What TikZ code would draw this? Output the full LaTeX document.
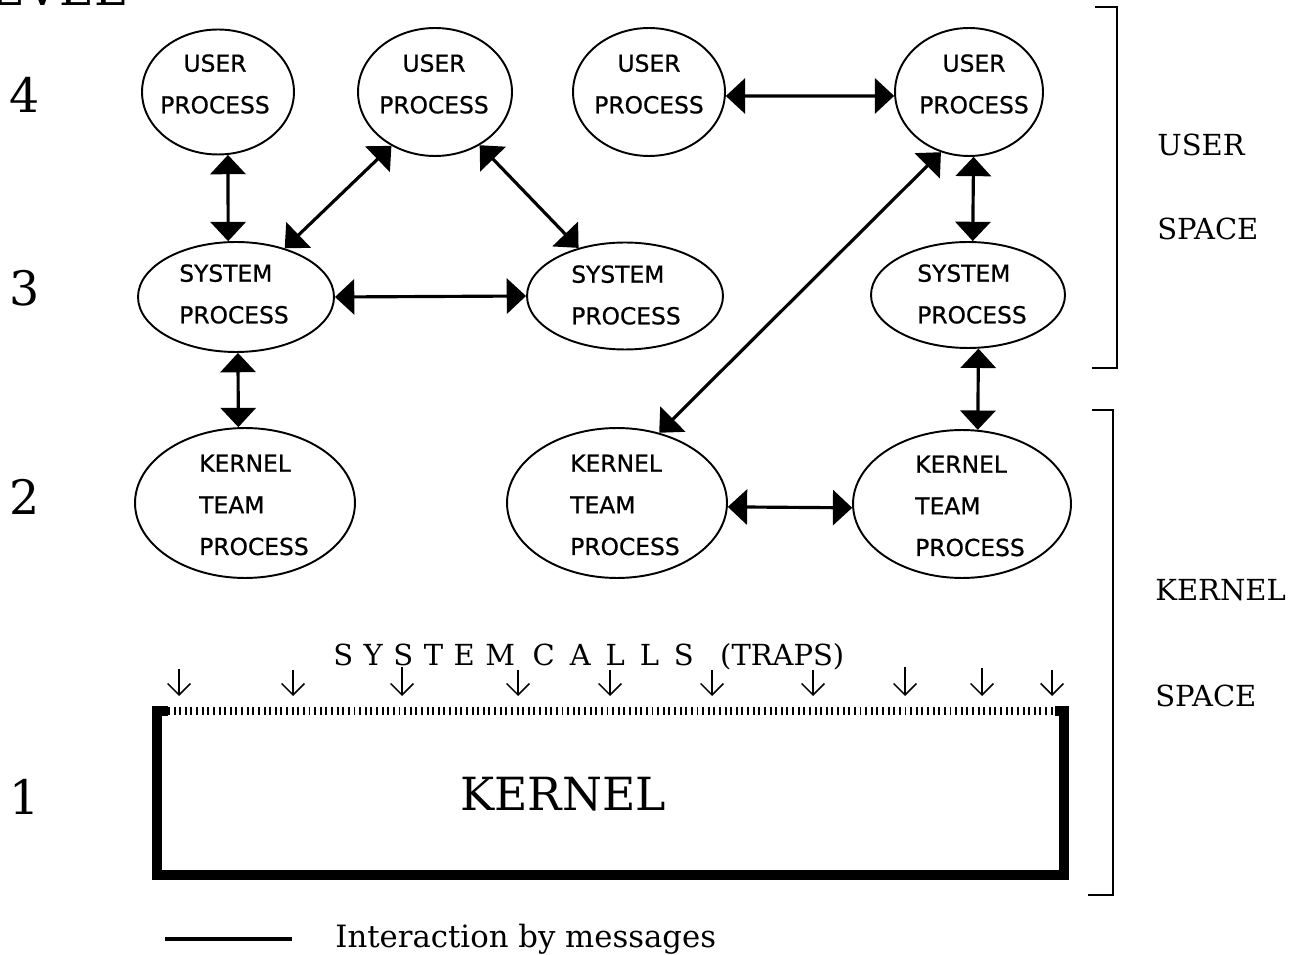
\documentclass[tikz,border=0pt]{standalone}
\usepackage{fontspec}
\setmainfont{DejaVu Serif}
\newfontfamily\procfont[FakeBold=0.8]{DejaVu Sans}
\usetikzlibrary{arrows.meta,shapes.geometric}
\newcommand\myls{\hspace{6pt}}
\newcommand\mylc{\hspace{8.5pt}}
\begin{document}
\begin{tikzpicture}[x=0.02cm,y=-0.02cm,
  proc/.style={ellipse,draw,line width=1.1pt,inner sep=0pt},
  ptext/.style={font=\procfont\fontsize{13.3}{23.7}\selectfont,align=center,inner sep=0pt},
  ltext/.style={font=\procfont\fontsize{13.3}{23.7}\selectfont,align=left,inner sep=0pt},
  msg/.style={line width=1.8pt,{Triangle[length=11pt,width=20pt]}-{Triangle[length=11pt,width=20pt]}},
  trap/.style={line width=0.9pt,-{Straight Barb[length=6.5pt,width=13pt]}},
  side/.style={font=\fontsize{16.5}{18}\selectfont,anchor=west,inner sep=0pt},
  lvl/.style={font=\fontsize{27}{27}\selectfont,inner sep=0pt},
  brk/.style={line width=1.1pt}]
\useasboundingbox (0,0) rectangle (1294,955);
\clip (0,0) rectangle (1294,955);
\fill[white] (0,0) rectangle (1294,955);

% level labels
\node[lvl,anchor=base east] (lvtitle) at (126,6) {LEVEL};
\node[lvl] (l4) at (25,95) {4};
\node[lvl] (l3) at (25,288) {3};
\node[lvl] (l2) at (25,497) {2};
\node[lvl] (l1) at (25,797) {1};

% ellipses
\node[proc,minimum width=3.04cm,minimum height=2.5cm] (u1) at (218,92) {};
\node[proc,minimum width=3.08cm,minimum height=2.56cm] (u2) at (435,92) {};
\node[proc,minimum width=3.04cm,minimum height=2.56cm] (u3) at (649,92) {};
\node[proc,minimum width=2.96cm,minimum height=2.56cm] (u4) at (969,92) {};
\node[proc,minimum width=3.92cm,minimum height=2.2cm] (s1) at (236,297) {};
\node[proc,minimum width=3.92cm,minimum height=2.14cm] (s2) at (625,296) {};
\node[proc,minimum width=3.88cm,minimum height=2.12cm] (s3) at (968,295) {};
\node[proc,minimum width=4.4cm,minimum height=3.0cm] (k1) at (245,503) {};
\node[proc,minimum width=4.4cm,minimum height=3.0cm] (k2) at (617,503) {};
\node[proc,minimum width=4.36cm,minimum height=2.96cm] (k3) at (962,504) {};

% ellipse texts
\node[ptext] (tu1) at (215,84) {USER\\PROCESS};
\node[ptext] (tu2) at (434,84) {USER\\PROCESS};
\node[ptext] (tu3) at (649,84) {USER\\PROCESS};
\node[ptext] (tu4) at (974,84) {USER\\PROCESS};
\node[ltext] (ts1) at (234,294) {SYSTEM\\PROCESS};
\node[ltext] (ts2) at (626,295) {SYSTEM\\PROCESS};
\node[ltext] (ts3) at (972,294) {SYSTEM\\PROCESS};
\node[ltext] (tk1) at (254,505) {KERNEL\\TEAM\\PROCESS};
\node[ltext] (tk2) at (625,505) {KERNEL\\TEAM\\PROCESS};
\node[ltext] (tk3) at (970,506) {KERNEL\\TEAM\\PROCESS};

% connectors
\draw[msg] (u1.-81) -- (s1.98);
\draw[msg] (u2.-129) -- (s1.45);
\draw[msg] (u2.-50) -- (s2.134);
\draw[msg] (s1.east) -- (s2.west);
\draw[msg] (u3.-3) -- (u4.183);
\draw[msg] (u4.-86) -- (s3.85);
\draw[msg] (k2.59) -- (u4.-115);
\draw[msg] (s1.-88) -- (k1.95);
\draw[msg] (k2.-2) -- (k3.182);
\draw[msg] (s3.-79) -- (k3.78);

% kernel box
\draw[line width=5.5pt,line join=miter] (168,711) -- (157,711) -- (157,875) -- (1064,875) -- (1064,711) -- (1055,711);
\draw[line width=5pt,dash pattern=on 1.1pt off 2.1pt] (168,711) -- (1055,711);
\node[font=\fontsize{26}{26}\selectfont,inner sep=0pt] (kern) at (563,794) {KERNEL};

% system calls
\node[anchor=base west,font=\fontsize{16.5}{18}\selectfont,inner sep=0pt] (sc) at (333,665)
  {S\myls Y\myls S\myls T\myls E\myls M\hspace{10pt}C\mylc A\mylc L\mylc L\mylc S\hspace{15pt}(TRAPS)};
\foreach \x/\t in {179/669,293/670,402/667,518/670,610/670,712/670,813/670,905/667,982/668,1052/670}
  \draw[trap] (\x,\t) -- (\x,696);

% brackets
\draw[brk] (1095,7) -- (1117,7) -- (1117,368) -- (1092,368);
\draw[brk] (1092,410) -- (1113,410) -- (1113,895) -- (1088,895);
\node[side] (us1) at (1157,145) {USER};
\node[side] (us2) at (1157,229) {SPACE};
\node[side] (ks1) at (1155,590) {KERNEL};
\node[side] (ks2) at (1155,696) {SPACE};

% legend
\coordinate (lg1) at (165,939);
\coordinate (lg2) at (292,939);
\draw[line width=2pt] (lg1) -- (lg2);
\node[anchor=base west,font=\fontsize{17.5}{20}\selectfont,inner sep=0pt] (lgt) at (335,947) {Interaction by messages};
\end{tikzpicture}
\end{document}
